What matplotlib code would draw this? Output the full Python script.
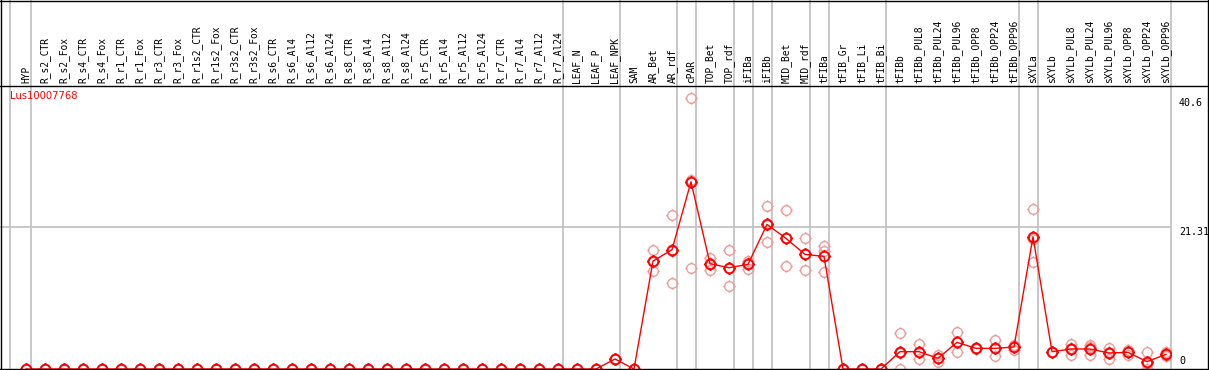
import numpy as np
import matplotlib
matplotlib.use("Agg")
import matplotlib.pyplot as plt
from matplotlib.path import Path
from matplotlib.lines import Line2D
from matplotlib import transforms

# sample names (columns)
samples = ["HYP",
           "R_s2_CTR", "R_s2_Fox", "R_s4_CTR", "R_s4_Fox", "R_r1_CTR", "R_r1_Fox",
           "R_r3_CTR", "R_r3_Fox", "R_r1s2_CTR", "R_r1s2_Fox", "R_r3s2_CTR", "R_r3s2_Fox",
           "R_s6_CTR", "R_s6_Al4", "R_s6_Al12", "R_s6_Al24",
           "R_s8_CTR", "R_s8_Al4", "R_s8_Al12", "R_s8_Al24",
           "R_r5_CTR", "R_r5_Al4", "R_r5_Al12", "R_r5_Al24",
           "R_r7_CTR", "R_r7_Al4", "R_r7_Al12", "R_r7_Al24",
           "LEAF_N", "LEAF_P", "LEAF_NPK",
           "SAM", "AR_Bet", "AR_rdf", "cPAR", "TOP_Bet", "TOP_rdf",
           "iFIBa", "iFIBb", "MID_Bet", "MID_rdf", "tFIBa",
           "tFIB_Gr", "tFIB_Li", "tFIB_Bi",
           "tFIBb", "tFIBb_PUL8", "tFIBb_PUL24", "tFIBb_PUL96",
           "tFIBb_OPP8", "tFIBb_OPP24", "tFIBb_OPP96",
           "sXYLa", "sXYLb", "sXYLb_PUL8", "sXYLb_PUL24", "sXYLb_PUL96",
           "sXYLb_OPP8", "sXYLb_OPP24", "sXYLb_OPP96"]

# last sample of each group (separator drawn after it)
group_ends = ["HYP", "R_r7_Al24", "LEAF_NPK", "AR_rdf", "cPAR", "TOP_rdf", "iFIBa",
              "iFIBb", "MID_rdf", "tFIBa", "tFIB_Bi", "tFIBb_OPP96", "sXYLa", "sXYLb_OPP96"]

# mean expression
means = [0.0] * 31 + [1.5, 0.0, 16.2, 17.9, 28.1, 15.8, 15.2, 15.7, 21.7, 19.6, 17.2, 16.9,
                      0.0, 0.0, 0.0,
                      2.6, 2.6, 1.6, 4.0, 3.1, 3.1, 3.3,
                      19.85, 2.6, 3.0, 3.0, 2.4, 2.5, 1.1, 2.2]

# replicate values
rep1 = [0.0] * 31 + [1.5, 0.0, 17.9, 23.1, 40.6, 16.7, 17.9, 16.2, 24.4, 23.8, 19.6, 18.4,
                     0.0, 0.0, 0.0,
                     5.4, 3.7, 2.1, 5.5, 3.2, 4.3, 3.6,
                     24.0, 2.6, 3.7, 3.6, 3.2, 2.9, 2.5, 2.6]
rep2 = [0.0] * 31 + [1.5, 0.0, 14.7, 12.95, 15.2, 14.8, 12.5, 14.96, 19.1, 15.4, 14.8, 14.6,
                     0.0, 0.0, 0.0,
                     0.0, 1.5, 1.1, 2.5, 3.0, 1.9, 2.9,
                     16.1, 2.6, 2.1, 2.1, 1.5, 2.1, 0.0, 1.9]
rep3 = [0.0] * 31 + [1.5, 0.0, 16.0, 17.65, 28.4, 15.9, 15.2, 15.9, 21.6, 19.6, 17.2, 17.7,
                     0.0, 0.0, 0.0,
                     2.4, 2.6, 1.6, 4.0, 3.1, 3.1, 3.4,
                     19.5, 2.6, 3.2, 3.3, 2.5, 2.5, 0.8, 2.1]

gene = "Lus10007768"
y_max_label = "40.6"
y_mid_label = "21.31"
y_top = 42.62

W, H = 1209, 370
fig = plt.figure(figsize=(W / 100, H / 100), dpi=100)
fig.patch.set_facecolor("white")

# plot area: x pixels 0..1171, y pixels 85..369 (from top)
ax = fig.add_axes([0, 1 / H, 1171 / W, 284 / H])
x = np.arange(len(samples))
ax.set_xlim(-26 / 19, (1171 - 26) / 19)
ax.set_ylim(0, y_top)
ax.axis("off")

gray = "#c4c4c4"
# separators through plot and header
head_frac = 369 / 284
ax.axvline(-16 / 19, ymin=0, ymax=head_frac, color=gray, lw=1.3, clip_on=False)
for s in group_ends:
    ax.axvline(samples.index(s) + 5 / 19, ymin=0, ymax=head_frac, color=gray, lw=1.3,
               clip_on=False)
ax.axhline(float(y_mid_label), color=gray, lw=1.3)

# circle marker with four small ticks
ring = Path.unit_circle()
ticks = [Path([[0, 1], [0, 1.3]]), Path([[0, -1], [0, -1.3]]),
         Path([[1, 0], [1.3, 0]]), Path([[-1, 0], [-1.3, 0]])]
marker = Path.make_compound_path(ring, *ticks)

pink = "#f09a9a"
for reps in (rep1, rep2, rep3):
    ax.plot(x, reps, ls="none", marker=marker, ms=9, mfc="none", mec=pink, mew=1.0)
ax.plot(x, means, color="#ff0000", lw=1.0, marker=marker, ms=9, mfc="none",
        mec="#ff0000", mew=1.4)

# header labels
lab_tr = transforms.blended_transform_factory(ax.transData, ax.transAxes)
lab_tr = lab_tr + transforms.ScaledTranslation(0, 2 / 100, fig.dpi_scale_trans)
for i, s in enumerate(samples):
    ax.text(i, 1.0, s, rotation=90, ha="center", va="bottom", transform=lab_tr,
            family="DejaVu Sans Mono", fontsize=6.9, clip_on=False)

# value labels at right
val_tr = transforms.blended_transform_factory(ax.transAxes, ax.transData)
ax.text(1179 / 1171, 40.6, y_max_label, ha="left", va="top", family="DejaVu Sans Mono",
        fontsize=7.2, clip_on=False, transform=val_tr)
ax.text(1179 / 1171, float(y_mid_label), y_mid_label, ha="left", va="top",
        family="DejaVu Sans Mono", fontsize=7.2, clip_on=False, transform=val_tr)
ax.text(1179 / 1171, 0.5, "0", ha="left", va="bottom", family="DejaVu Sans Mono",
        fontsize=7.2, clip_on=False, transform=val_tr)

fig.text(10 / W, 1 - 91 / H, gene, color="#ff0000", fontsize=7.2, ha="left", va="top")

# frame and header line
lw = 1.0
for xs, ys in [([0, 1], [1 - 0.5 / H, 1 - 0.5 / H]),
               ([0.5 / W, 0.5 / W], [0, 1]),
               ([1 - 1.5 / W, 1 - 1.5 / W], [0, 1]),
               ([0, 1], [1.5 / H, 1.5 / H]),
               ([0, 1], [1 - 85.5 / H, 1 - 85.5 / H])]:
    fig.add_artist(Line2D(xs, ys, color="black", lw=lw, transform=fig.transFigure))

fig.savefig("out.png", dpi=100)
